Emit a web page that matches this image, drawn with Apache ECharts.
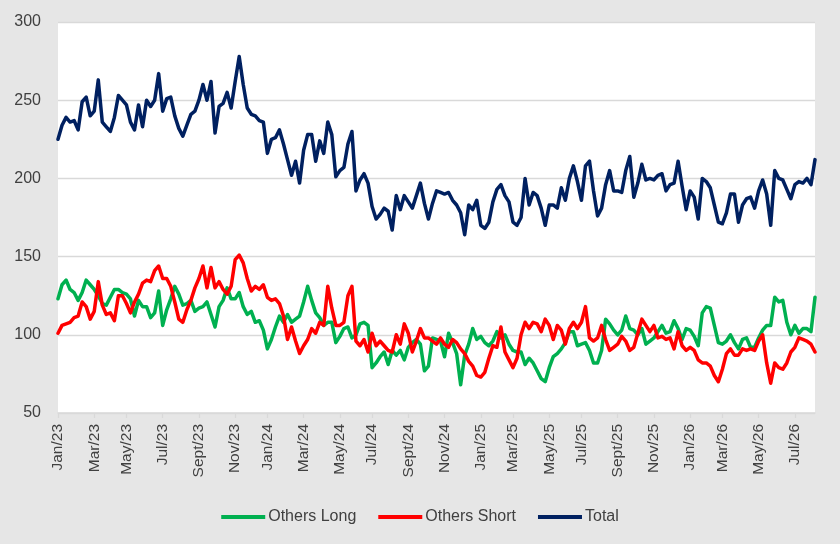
<!DOCTYPE html>
<html>
<head>
<meta charset="utf-8">
<script src="https://cdn.jsdelivr.net/npm/echarts@6/dist/echarts.min.js"></script>
<style>
  html, body { margin: 0; padding: 0; background: #e6e6e6; }
  #chart { width: 840px; height: 544px; }
</style>
</head>
<body>
<div id="chart"></div>
<script>
// Weekly observations starting 2023-01-03
const START_DATE = '2023-01-03';
const MONTH_NAMES = ['Jan','Feb','Mar','Apr','May','Jun','Jul','Aug','Sept','Oct','Nov','Dec'];
const Y_TICKS = [50, 100, 150, 200, 250, 300];

const othersLong = [
  123,132,135,129,127,122,127,135,132,129,125,120,119,124,129,129,127,126,123,112,
  122,118,118,111,114,128,106,116,123,131,126,119,120,122,115,117,118,121,113,105,
  118,122,130,123,123,127,118,113,115,108,109,103,91,97,105,112,108,113,108,110,
  112,121,131,122,114,111,106,108,108,95,99,104,105,98,100,107,108,106,79,82,
  86,89,81,90,87,90,84,92,95,97,94,77,80,98,97,96,86,101,95,88,
  68,87,94,104,97,99,95,93,96,102,98,100,94,90,89,89,81,85,82,77,
  72,70,79,86,88,91,95,102,102,93,94,95,90,82,82,90,110,107,103,100,
  103,112,104,103,100,104,94,96,98,102,106,101,102,109,104,97,104,103,99,93,
  114,118,117,106,95,94,96,100,95,91,97,98,92,92,98,103,106,106,124,121,
  122,108,100,106,101,104,104,102,124
];

const othersShort = [
  101,106,107,108,111,112,121,118,110,115,134,119,113,114,109,125,125,120,114,121,
  126,133,135,134,141,144,136,136,131,121,110,108,116,122,130,136,144,130,143,130,
  134,129,126,131,148,151,146,136,128,131,129,132,124,122,123,120,112,97,105,96,
  88,93,97,104,101,108,106,131,117,106,106,108,125,131,96,93,97,89,101,93,
  96,93,90,89,100,94,107,101,89,96,104,98,98,96,94,98,94,92,97,95,
  91,88,83,80,74,73,76,85,93,92,105,89,84,79,85,100,108,104,108,107,
  102,110,106,97,106,103,94,104,108,104,108,118,98,96,98,106,97,90,92,94,
  99,96,90,92,101,110,106,102,106,98,99,97,98,91,102,93,90,92,90,84,
  82,82,80,74,70,78,88,91,87,87,91,90,91,90,96,100,82,69,82,79,
  78,82,89,92,98,97,96,94,89
];

const total = [
  225,234,239,236,237,231,249,252,240,243,263,236,233,230,239,253,250,247,236,231,
  247,233,250,246,250,267,243,251,252,240,232,227,234,241,243,250,260,250,262,229,
  246,248,255,245,262,278,260,245,241,240,237,236,216,225,226,231,222,212,202,211,
  197,218,228,228,211,224,216,236,228,201,205,207,222,230,192,199,203,197,182,174,
  177,181,179,167,189,180,189,185,181,189,197,184,174,184,192,191,190,191,186,183,
  178,164,183,180,186,170,168,172,185,193,196,189,185,172,170,175,200,183,191,189,
  181,170,183,183,181,194,186,200,208,198,186,208,211,192,176,181,196,205,192,192,
  191,205,214,188,197,209,199,200,199,202,203,192,196,197,211,195,180,192,188,174,
  200,198,194,183,172,171,178,190,190,172,183,187,188,181,192,199,190,170,205,200,
  199,193,187,196,198,197,200,196,212
];

// Build weekly date categories
const dates = [];
(function () {
  const t0 = Date.parse(START_DATE + 'T00:00:00Z');
  for (let i = 0; i < total.length; i++) dates.push(new Date(t0 + i * 7 * 86400000));
})();
const categories = dates.map(d => d.toISOString().slice(0, 10));

function isLabelWeek(index) {
  const d = dates[index];
  if (!d) return false;
  return d.getUTCDate() <= 7 && d.getUTCMonth() % 2 === 0;
}
function fmtLabel(value) {
  const d = new Date(value + 'T00:00:00Z');
  return MONTH_NAMES[d.getUTCMonth()] + '/' + String(d.getUTCFullYear()).slice(2);
}

const FONT = 'Liberation Sans, Arial, sans-serif';
const chart = echarts.init(document.getElementById('chart'), null, { renderer: 'canvas' });
chart.setOption({
  backgroundColor: '#e6e6e6',
  animation: false,
  textStyle: { fontFamily: FONT },
  grid: {
    left: 58, right: 25, top: 22, bottom: 131,
    show: true, backgroundColor: '#ffffff', borderWidth: 0,
    containLabel: false
  },
  legend: {
    bottom: 14,
    left: 'center',
    icon: 'rect',
    itemWidth: 44,
    itemHeight: 4,
    itemGap: 22,
    textStyle: { fontFamily: FONT, fontSize: 16, color: '#404040', padding: [0, 0, 0, -2] },
    data: ['Others Long', 'Others Short', 'Total']
  },
  xAxis: {
    type: 'category',
    boundaryGap: false,
    data: categories,
    axisLine: { show: true, lineStyle: { color: '#d9d9d9', width: 1.5 } },
    axisTick: {
      show: true, length: 5,
      interval: (i) => isLabelWeek(i),
      lineStyle: { color: '#d9d9d9', width: 1.3 }
    },
    axisLabel: {
      rotate: 90,
      margin: 11,
      interval: (i) => isLabelWeek(i),
      formatter: fmtLabel,
      fontFamily: FONT,
      fontSize: 15.5,
      color: '#404040'
    },
    splitLine: { show: false }
  },
  yAxis: {
    type: 'value',
    min: Y_TICKS[0],
    max: Y_TICKS[Y_TICKS.length - 1],
    interval: 50,
    axisLine: { show: false },
    axisTick: { show: false },
    axisLabel: { fontFamily: FONT, fontSize: 16, color: '#404040', margin: 17 },
    splitLine: { show: true, lineStyle: { color: '#d9d9d9', width: 1.3 } }
  },
  series: [
    {
      name: 'Others Long', type: 'line', data: othersLong,
      symbol: 'none', color: '#00b050',
      lineStyle: { width: 3.5, color: '#00b050', join: 'round', cap: 'round' }
    },
    {
      name: 'Others Short', type: 'line', data: othersShort,
      symbol: 'none', color: '#ff0000',
      lineStyle: { width: 3.5, color: '#ff0000', join: 'round', cap: 'round' }
    },
    {
      name: 'Total', type: 'line', data: total,
      symbol: 'none', color: '#002060',
      lineStyle: { width: 3.5, color: '#002060', join: 'round', cap: 'round' }
    }
  ]
});
</script>
</body>
</html>
